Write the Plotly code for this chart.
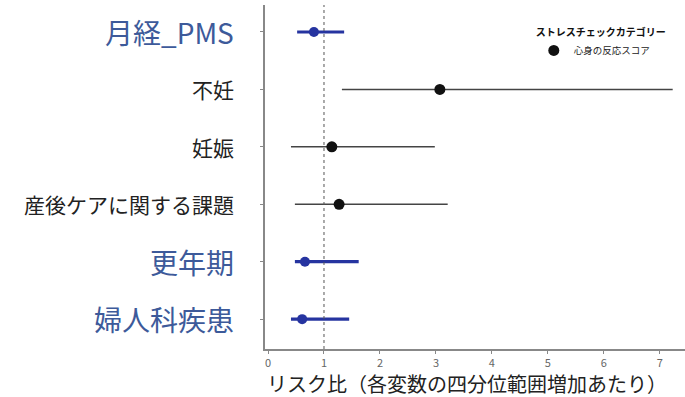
import plotly.graph_objects as go

categories = ["月経_PMS", "不妊", "妊娠", "産後ケアに関する課題", "更年期", "婦人科疾患"]
estimate = [0.82, 3.07, 1.14, 1.27, 0.66, 0.61]
ci_low = [0.52, 1.32, 0.41, 0.48, 0.48, 0.41]
ci_high = [1.36, 7.23, 2.98, 3.21, 1.62, 1.45]
highlight = [True, False, False, False, True, True]
x_ticks = [0, 1, 2, 3, 4, 5, 6, 7]
reference_rr = 1

FONT = "Noto Sans CJK JP"
BLUE_MARK = "#2634a0"
BLUE_TEXT = "#3d5a9a"
DARK = "#111111"

fig = go.Figure()

def add_group(flag, color, line_w, line_color, size, name, showlegend):
    idx = [i for i, h in enumerate(highlight) if h == flag]
    fig.add_trace(go.Scatter(
        x=[estimate[i] for i in idx],
        y=[categories[i] for i in idx],
        mode="markers",
        marker=dict(color=color, size=size),
        error_x=dict(type="data", symmetric=False,
                     array=[ci_high[i] - estimate[i] for i in idx],
                     arrayminus=[estimate[i] - ci_low[i] for i in idx],
                     width=0, thickness=line_w, color=line_color),
        name=name, showlegend=showlegend,
    ))

add_group(False, DARK, 1.5, "#444444", 11, "心身の反応スコア", True)
add_group(True, BLUE_MARK, 3.2, BLUE_MARK, 10, "心身の反応スコア", False)

fig.add_shape(type="line", xref="x", yref="paper", x0=reference_rr, x1=reference_rr,
              y0=0, y1=1, line=dict(color="#555555", width=1, dash="dot"))

annotations = []
for c, h in zip(categories, highlight):
    annotations.append(dict(
        text=c, xref="paper", yref="y", x=0, y=c, xshift=-29,
        xanchor="right", yanchor="middle", showarrow=False,
        font=dict(size=28 if h else 21, color=BLUE_TEXT if h else "#222222"),
    ))
annotations.append(dict(text="リスク比（各変数の四分位範囲増加あたり）", xref="paper", yref="paper",
                        x=0.48, y=0, yshift=-34, xanchor="center", yanchor="middle",
                        showarrow=False, font=dict(size=20, color="#222222")))

fig.update_layout(
    width=685, height=397,
    margin=dict(l=265, r=0, t=5, b=48),
    paper_bgcolor="white", plot_bgcolor="white",
    font=dict(family=FONT, color="#222222"),
    xaxis=dict(range=[-0.054, 7.45], tickvals=x_ticks, showgrid=False, zeroline=False,
               showline=True, linecolor="#888888", linewidth=1.5,
               ticks="outside", ticklen=3, tickcolor="#888888",
               tickfont=dict(size=11, color="#666666"), automargin=False),
    yaxis=dict(type="category", categoryorder="array", categoryarray=categories,
               range=[5.52, -0.47], tickvals=categories, showticklabels=False,
               showgrid=False, zeroline=False, showline=True, linecolor="#888888",
               linewidth=1.5, ticks="outside", ticklen=3, tickcolor="#888888",
               automargin=False),
    legend=dict(x=0.64, y=0.948, xanchor="left", yanchor="top",
                bgcolor="rgba(0,0,0,0)",
                title=dict(text="<b>ストレスチェックカテゴリー</b>", font=dict(size=10, color="#111111")),
                font=dict(size=9.5, color="#222222"), itemwidth=30),
    annotations=annotations,
)

fig.write_html("out.html", config={"displayModeBar": False},
               post_script="document.body.style.margin='0px';")
